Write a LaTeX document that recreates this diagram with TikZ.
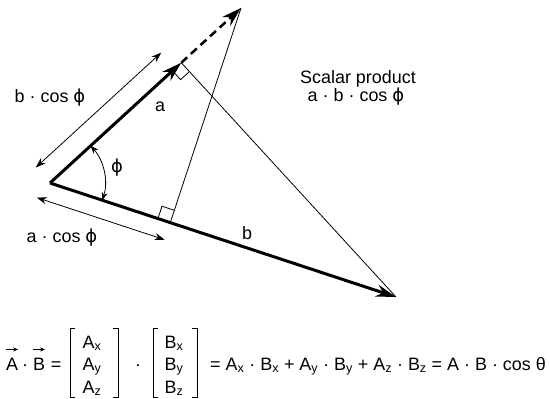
\documentclass[tikz,border=0pt]{standalone}
\usepackage{fontspec}
\setmainfont{Liberation Sans}
\newfontfamily\phifont{DejaVu Sans}
\newcommand{\phisym}{{\phifont ϕ}}
\usepackage{tikz}
\usetikzlibrary{arrows.meta,calc}

\begin{document}
\begin{tikzpicture}[x=1bp,y=1bp,
  every node/.style={font=\fontsize{18}{22}\selectfont, inner sep=0pt},
  vecarrow/.style={line width=3bp, -{Stealth[length=20bp,width=12bp]}},
  projline/.style={line width=0.8bp},
  spanarrow/.style={line width=0.8bp, {Stealth[length=10bp,width=7bp]}-{Stealth[length=10bp,width=7bp]}},
  anglearrow/.style={line width=0.8bp, {Stealth[length=8bp,width=6bp]}-{Stealth[length=8bp,width=6bp]}},
  bracket/.style={line width=1bp}]
\useasboundingbox (0,0) rectangle (550,398);
\coordinate (O) at (50,215);
\coordinate (B) at (396,101);
\coordinate (P) at (241,390);
\coordinate (A) at ($(O)!(B)!(P)$);
\coordinate (F) at ($(O)!(P)!(B)$);
\coordinate (Aa) at ($(A)!12bp!(O)$);
\coordinate (Ab) at ($(A)!12bp!(B)$);
\coordinate (Fa) at ($(F)!13bp!(O)$);
\coordinate (Fb) at ($(F)!13bp!(P)$);
\draw[projline] (B) -- (A);
\draw[projline] (P) -- (F);
\draw[projline] (Aa) -- ($(Aa)+(Ab)-(A)$) -- (Ab);
\draw[projline] (Fa) -- ($(Fa)+(Fb)-(F)$) -- (Fb);
\draw[vecarrow] (O) -- (A);
\draw[vecarrow, line width=2.5bp, dash pattern=on 8bp off 5bp] (A) -- (P);
\draw[vecarrow] (O) -- (B);
\draw[spanarrow, shorten >=8bp] ($(O)!21bp!90:(A)$) -- ($(A)!21bp!-90:(O)$);
\draw[spanarrow, shorten <=-8bp] ($(O)!18bp!-90:(F)$) -- ($(F)!18bp!90:(O)$);
\draw[anglearrow] (O) ++(-18.2:55bp) arc[start angle=-18.2, end angle=42.5, radius=55bp];
\node at (50,300) {b · cos \phisym};
\node at (160,291) {a};
\node at (117,230) {\phisym};
\node at (62,160) {a · cos \phisym};
\node at (247,165) {b};
\node at (358,319) {Scalar product};
\node at (356,301) {a · b · cos \phisym};
\node[anchor=base] (eA) at (12,28) {A};
\node[anchor=base] at (25,28) {·};
\node[anchor=base] (eB) at (39,28) {B};
\node[anchor=base] at (56,28) {=};
\draw[line width=0.8bp, -{Stealth[length=5bp,width=4bp]}] ([yshift=8bp]eA.north west) -- ([yshift=8bp]eA.north east);
\draw[line width=0.8bp, -{Stealth[length=5bp,width=4bp]}] ([yshift=8bp]eB.north west) -- ([yshift=8bp]eB.north east);
\draw[bracket] (75,70) -- (70,70) -- (70,1) -- (75,1);
\draw[bracket] (113,70) -- (118,70) -- (118,1) -- (113,1);
\node[anchor=base] at (92,50) {A\textsubscript{x}};
\node[anchor=base] at (92,28) {A\textsubscript{y}};
\node[anchor=base] at (92,5) {A\textsubscript{z}};
\node[anchor=base] at (138,28) {·};
\draw[bracket] (158,70) -- (153,70) -- (153,1) -- (158,1);
\draw[bracket] (192,70) -- (197,70) -- (197,1) -- (192,1);
\node[anchor=base] at (174,50) {B\textsubscript{x}};
\node[anchor=base] at (174,28) {B\textsubscript{y}};
\node[anchor=base] at (174,5) {B\textsubscript{z}};
\node[anchor=base west] at (210,28) {= A\textsubscript{x} · B\textsubscript{x} + A\textsubscript{y} · B\textsubscript{y} + A\textsubscript{z} · B\textsubscript{z} = A · B · cos θ};
\end{tikzpicture}
\end{document}
